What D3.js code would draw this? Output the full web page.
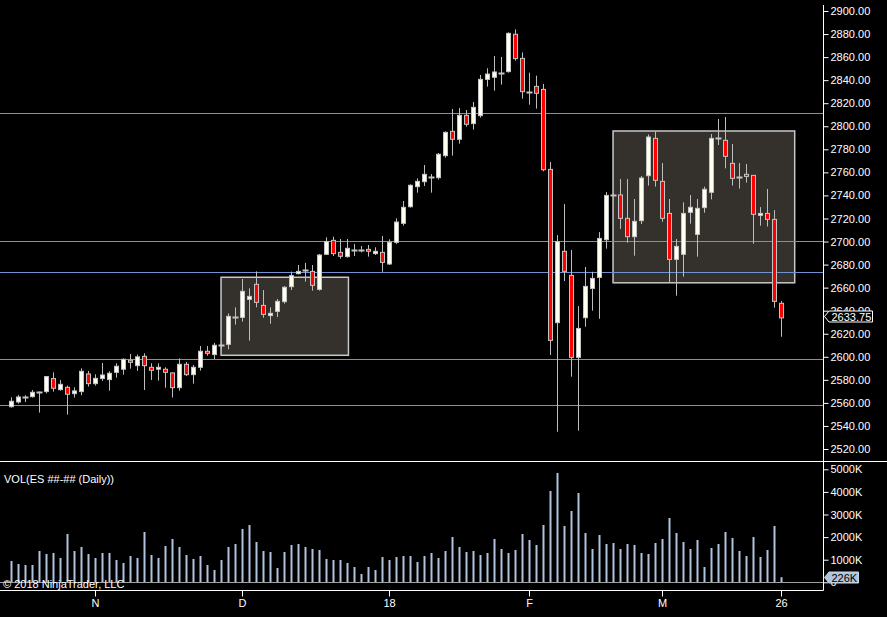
<!DOCTYPE html>
<html>
<head>
<meta charset="utf-8">
<script src="https://cdn.jsdelivr.net/npm/d3@7"></script>
<style>
  body { margin: 0; background: #000; }
  svg { display: block; font-family: "Liberation Sans", Arial, sans-serif; }
</style>
</head>
<body>
<div id="chart"></div>
<script>
// Daily ES bars, index 0..110 (Oct 2017 - 26 Mar 2018)
const opens = [
  2556.7, 2560.8, 2565.4, 2565.4, 2569.5, 2569.8, 2581.1, 2571.5, 2573.5, 2568.0,
  2569.8, 2585.1, 2576.7, 2581.1, 2580.2, 2586.5, 2589.2, 2597.0, 2592.3, 2600.4,
  2590.9, 2589.2, 2589.2, 2586.0, 2573.2, 2593.5, 2584.5, 2590.9, 2604.8, 2601.9,
  2610.5, 2610.8, 2634.2, 2634.2, 2649.8, 2662.9, 2644.6, 2635.7, 2639.4, 2647.8,
  2660.8, 2672.1, 2675.0, 2674.1, 2658.5, 2688.9, 2701.0, 2690.6, 2686.9, 2692.4,
  2693.0, 2693.2, 2689.5, 2690.6, 2680.5, 2699.3, 2715.8, 2730.2, 2747.6, 2751.9,
  2756.3, 2755.4, 2774.5, 2795.6, 2788.7, 2809.5, 2802.3, 2809.2, 2840.7, 2842.5,
  2846.5, 2847.4, 2879.8, 2858.9, 2830.0, 2834.6, 2832.0, 2762.6, 2629.6, 2691.5,
  2670.6, 2599.5, 2633.9, 2659.3, 2668.9, 2701.6, 2740.6, 2740.4, 2720.1, 2704.2,
  2718.1, 2757.1, 2789.5, 2752.2, 2724.4, 2684.5, 2688.9, 2725.3, 2706.2, 2729.4,
  2742.7, 2789.5, 2787.8, 2767.8, 2756.3, 2758.3, 2757.4, 2722.7, 2724.4, 2719.2,
  2646.4
];
const highs = [
  2564.9, 2566.9, 2566.6, 2571.2, 2569.8, 2583.4, 2586.5, 2579.9, 2575.0, 2573.5,
  2590.0, 2587.7, 2584.8, 2594.6, 2587.4, 2594.4, 2598.7, 2602.5, 2601.9, 2603.0,
  2594.4, 2594.4, 2590.9, 2586.3, 2598.7, 2595.5, 2592.9, 2609.4, 2609.4, 2612.0,
  2612.3, 2637.7, 2642.9, 2667.5, 2659.4, 2674.1, 2657.9, 2642.9, 2650.1, 2661.4,
  2673.9, 2679.6, 2681.4, 2679.6, 2689.2, 2703.6, 2704.2, 2702.2, 2702.2, 2697.9,
  2696.1, 2697.0, 2695.0, 2704.8, 2701.9, 2720.1, 2735.2, 2749.6, 2754.8, 2766.4,
  2758.6, 2776.8, 2795.6, 2815.0, 2815.9, 2814.1, 2821.1, 2844.5, 2850.3, 2861.0,
  2860.1, 2881.5, 2884.1, 2864.1, 2846.5, 2843.9, 2836.7, 2769.0, 2705.6, 2732.5,
  2692.6, 2644.0, 2677.9, 2673.8, 2708.2, 2742.9, 2741.8, 2754.2, 2754.2, 2736.9,
  2756.8, 2793.0, 2795.3, 2768.1, 2736.9, 2702.2, 2734.0, 2740.4, 2736.9, 2747.6,
  2793.3, 2806.3, 2808.0, 2784.6, 2768.1, 2767.2, 2757.4, 2729.9, 2745.6, 2727.3,
  2648.4
];
const lows = [
  2555.9, 2559.4, 2560.8, 2564.6, 2551.6, 2568.3, 2569.8, 2570.6, 2549.8, 2564.6,
  2566.6, 2574.1, 2575.0, 2579.0, 2570.6, 2581.9, 2584.5, 2589.7, 2587.7, 2571.2,
  2579.9, 2579.3, 2573.2, 2564.6, 2570.6, 2583.4, 2576.7, 2588.0, 2601.0, 2598.1,
  2606.5, 2606.5, 2627.9, 2630.5, 2614.0, 2642.9, 2633.9, 2628.7, 2634.5, 2646.1,
  2657.9, 2671.5, 2665.2, 2657.4, 2657.4, 2688.3, 2687.4, 2685.1, 2686.0, 2687.4,
  2690.6, 2686.9, 2688.3, 2673.8, 2679.6, 2697.9, 2713.8, 2729.4, 2742.4, 2748.2,
  2742.4, 2753.7, 2772.8, 2774.5, 2784.9, 2799.7, 2797.1, 2807.5, 2834.4, 2830.9,
  2836.1, 2846.5, 2856.9, 2823.9, 2818.7, 2815.3, 2760.9, 2601.5, 2535.0, 2665.7,
  2582.7, 2535.9, 2626.1, 2640.0, 2633.0, 2693.8, 2739.5, 2710.9, 2699.0, 2687.7,
  2715.2, 2748.5, 2747.6, 2717.2, 2664.0, 2653.0, 2669.5, 2715.5, 2686.8, 2725.0,
  2736.6, 2783.7, 2763.5, 2748.5, 2745.9, 2751.1, 2698.1, 2713.7, 2713.0, 2642.6,
  2617.4
];
const closes = [
  2561.4, 2565.1, 2565.4, 2569.2, 2569.5, 2582.8, 2572.7, 2576.1, 2567.5, 2570.4,
  2587.4, 2576.7, 2581.3, 2584.2, 2585.7, 2591.8, 2597.8, 2595.2, 2599.9, 2592.3,
  2588.3, 2590.9, 2586.5, 2573.2, 2593.5, 2584.5, 2590.9, 2604.8, 2603.0, 2610.0,
  2610.5, 2635.1, 2634.2, 2656.8, 2652.4, 2647.2, 2636.8, 2637.7, 2648.1, 2660.3,
  2670.4, 2674.1, 2675.0, 2662.0, 2688.3, 2699.9, 2689.5, 2687.2, 2694.1, 2692.4,
  2693.0, 2691.5, 2691.5, 2681.9, 2699.3, 2716.9, 2729.7, 2748.8, 2752.2, 2758.3,
  2756.3, 2775.7, 2794.7, 2788.7, 2809.5, 2801.7, 2816.4, 2840.7, 2845.3, 2847.1,
  2846.5, 2880.6, 2858.7, 2830.0, 2830.0, 2828.6, 2762.3, 2614.2, 2699.8, 2674.1,
  2599.5, 2624.6, 2661.1, 2668.0, 2702.7, 2740.0, 2740.6, 2720.1, 2704.2, 2717.5,
  2755.1, 2790.7, 2753.1, 2720.1, 2684.5, 2695.8, 2724.4, 2729.7, 2728.8, 2745.3,
  2789.5, 2789.5, 2773.9, 2754.8, 2756.3, 2756.5, 2723.6, 2724.4, 2719.2, 2648.1,
  2633.75
];
// volume in thousands of contracts
const volumes = [
  943, 810, 765, 765, 1385, 1252, 1297, 1075, 2137, 1385,
  1562, 1252, 1075, 1297, 1297, 987, 854, 1164, 1075, 2226,
  1208, 1075, 1606, 1916, 1562, 1208, 1031, 1164, 765, 544,
  987, 1562, 1695, 2359, 2536, 1783, 1385, 1341, 633, 1341,
  1651, 1695, 1562, 1474, 1429, 1031, 987, 987, 854, 677,
  367, 677, 544, 1120, 987, 1120, 1164, 1164, 898, 1164,
  1297, 1075, 1385, 2005, 1562, 1341, 1385, 1208, 1297, 1916,
  1474, 1297, 1429, 2137, 1872, 1651, 2536, 4040, 4837, 2491,
  3155, 3952, 2182, 1474, 2093, 1695, 1739, 1474, 1695, 1651,
  1297, 1252, 1739, 1916, 2845, 2182, 1783, 1474, 1872, 677,
  1518, 1695, 2226, 1960, 1385, 1164, 2005, 1120, 1429, 2491,
  226
];

// month ticks on the time axis
const tickBars = [12, 33, 54, 74, 93, 110];
const tickLabels = ['N', 'D', '18', 'F', 'M', '26'];

// drawn support/resistance levels and boxes
const levels = [2811.2, 2700.2, 2673.8, 2597.8, 2557.9];
const zoneStart = [30.05, 86.05];
const zoneEnd = [48.25, 112.0];
const zoneTop = [2669.0, 2795.9];
const zoneBottom = [2601.3, 2664.2];

const priceTicks = d3.range(2520, 2901, 20);
const volTicks = [0, 1000, 2000, 3000, 4000, 5000];

const W = 887, H = 617;
const axisX = 823.5;

const bars = opens.map((o, i) => ({
  i, open: o, high: highs[i], low: lows[i], close: closes[i], vol: volumes[i]
}));

const x = d3.scaleLinear().domain([0, 110]).range([10.7, 780.7]);
const yPrice = d3.scaleLinear().domain([2520, 2900]).range([449, 11]);
const yVol = d3.scaleLinear().domain([0, 5000]).range([582.3, 469.3]);

const svg = d3.select('#chart').append('svg')
  .attr('width', W)
  .attr('height', H);

svg.append('rect').attr('width', W).attr('height', H).attr('fill', '#000');

// Zones (boxes)
svg.append('g').selectAll('rect')
  .data(zoneStart)
  .enter()
  .append('rect')
  .attr('x', (d, k) => x(d))
  .attr('y', (d, k) => yPrice(zoneTop[k]))
  .attr('width', (d, k) => x(zoneEnd[k]) - x(d))
  .attr('height', (d, k) => yPrice(zoneBottom[k]) - yPrice(zoneTop[k]))
  .attr('fill', '#34302c')
  .attr('stroke', '#c8c8c8')
  .attr('stroke-width', 1.5);

// Horizontal levels
svg.append('g').selectAll('line')
  .data(levels)
  .enter()
  .append('line')
  .attr('x1', 0)
  .attr('x2', axisX)
  .attr('y1', d => Math.round(yPrice(d)) + 0.5)
  .attr('y2', d => Math.round(yPrice(d)) + 0.5)
  .attr('stroke', '#6f93d2')
  .attr('stroke-width', 1);

// Candles
const px = i => Math.round(x(i)) + 0.5;
const candles = svg.append('g');

candles.selectAll('line.wick')
  .data(bars)
  .enter()
  .append('line')
  .attr('class', 'wick')
  .attr('x1', d => px(d.i))
  .attr('x2', d => px(d.i))
  .attr('y1', d => yPrice(d.high))
  .attr('y2', d => yPrice(d.low))
  .attr('stroke', '#bdbdbd')
  .attr('stroke-width', 1);

candles.selectAll('rect.body')
  .data(bars.filter(d => d.open !== d.close))
  .enter()
  .append('rect')
  .attr('class', 'body')
  .attr('x', d => px(d.i) - 2)
  .attr('y', d => yPrice(Math.max(d.open, d.close)))
  .attr('width', 4)
  .attr('height', d => Math.max(1, Math.abs(yPrice(d.open) - yPrice(d.close))))
  .attr('fill', d => d.close > d.open ? '#fffff2' : '#ff0000')
  .attr('stroke', '#c4c4c4')
  .attr('stroke-width', 1);

candles.selectAll('line.doji')
  .data(bars.filter(d => d.open === d.close))
  .enter()
  .append('line')
  .attr('class', 'doji')
  .attr('x1', d => px(d.i) - 3)
  .attr('x2', d => px(d.i) + 3)
  .attr('y1', d => Math.round(yPrice(d.close)) + 0.5)
  .attr('y2', d => Math.round(yPrice(d.close)) + 0.5)
  .attr('stroke', '#c4c4c4')
  .attr('stroke-width', 2);

// Volume bars
svg.append('g').selectAll('rect')
  .data(bars)
  .enter()
  .append('rect')
  .attr('x', d => Math.round(x(d.i)) - 0.5)
  .attr('y', d => yVol(d.vol))
  .attr('width', 2)
  .attr('height', d => yVol(0) - yVol(d.vol))
  .attr('fill', '#b0c4de');

// volume baseline
svg.append('line')
  .attr('x1', 0).attr('x2', axisX)
  .attr('y1', 582.5).attr('y2', 582.5)
  .attr('stroke', '#a0a0a0');

// panel frame
svg.append('line')
  .attr('x1', 0).attr('x2', W)
  .attr('y1', 461.5).attr('y2', 461.5)
  .attr('stroke', '#fff');
svg.append('line')
  .attr('x1', axisX).attr('x2', axisX)
  .attr('y1', 5).attr('y2', 590.5)
  .attr('stroke', '#fff');
svg.append('line')
  .attr('x1', 0).attr('x2', axisX)
  .attr('y1', 590.5).attr('y2', 590.5)
  .attr('stroke', '#fff');

function styleAxis(g) {
  g.select('.domain').remove();
  g.selectAll('.tick line').attr('stroke', '#fff');
  g.selectAll('.tick text')
    .attr('fill', '#fff')
    .style('font-size', '11px')
    .style('font-family', '"Liberation Sans", Arial, sans-serif');
}

// Price axis
svg.append('g')
  .attr('transform', `translate(${axisX},0)`)
  .call(d3.axisRight(yPrice)
    .tickValues(priceTicks)
    .tickSize(5)
    .tickPadding(2)
    .tickFormat(d3.format('.2f')))
  .call(styleAxis);

// Volume axis
svg.append('g')
  .attr('transform', `translate(${axisX},0)`)
  .call(d3.axisRight(yVol)
    .tickValues(volTicks)
    .tickSize(5)
    .tickPadding(2)
    .tickFormat(d => d ? d + 'K' : '0'))
  .call(styleAxis);

// Time axis
svg.append('g')
  .attr('transform', 'translate(0,590.5)')
  .call(d3.axisBottom(x)
    .tickValues(tickBars)
    .tickSize(6)
    .tickPadding(3)
    .tickFormat((d, k) => tickLabels[k]))
  .call(styleAxis)
  .call(g => g.selectAll('.tick').attr('transform', d => `translate(${px(d)},0)`));

// Last-value markers
function marker(yc, label, fill, stroke, textFill, right) {
  const left = axisX + 5.5;
  svg.append('path')
    .attr('d', `M${axisX + 1},${yc} L${left},${yc - 5.5} L${right},${yc - 5.5} L${right},${yc + 5.5} L${left},${yc + 5.5} Z`)
    .attr('fill', fill)
    .attr('stroke', stroke)
    .attr('stroke-width', 1);
  svg.append('text')
    .attr('x', left + 2.5)
    .attr('y', yc + 4)
    .attr('fill', textFill)
    .style('font-size', '11px')
    .text(label);
}
const last = bars[bars.length - 1];
marker(Math.round(yPrice(last.close)) - 1.5, d3.format('.2f')(last.close), '#000', '#fff', '#fff', 872.5);
marker(Math.round(yVol(last.vol)) + 0.5, last.vol + 'K', '#b0c4de', '#c8d6ea', '#000', 858.5);

// Labels
svg.append('text')
  .attr('x', 4).attr('y', 483)
  .attr('fill', '#fff')
  .style('font-size', '11px')
  .text('VOL(ES ##-## (Daily))');

svg.append('text')
  .attr('x', 3).attr('y', 588)
  .attr('fill', '#fff')
  .style('font-size', '11px')
  .text('© 2018 NinjaTrader, LLC');
</script>
</body>
</html>
